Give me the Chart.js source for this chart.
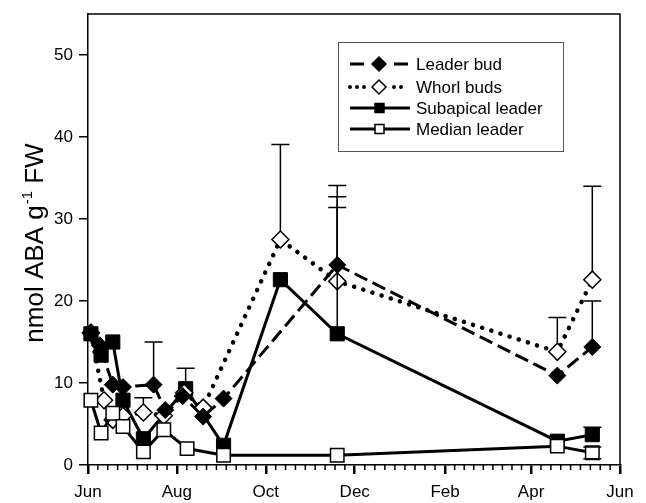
<!DOCTYPE html>
<html>
<head>
<meta charset="utf-8">
<script src="https://cdn.jsdelivr.net/npm/chart.js@4.4.1/dist/chart.umd.min.js"></script>
<style>
  html, body { margin: 0; padding: 0; background: #fff; }
  #wrap { width: 646px; height: 503px; }
</style>
</head>
<body>
<div id="wrap"><canvas id="c" width="646" height="503"></canvas></div>
<script>
/* ABA content of leader / whorl buds and leader sections over one year.
   x = days after 1 June, y = nmol ABA g-1 FW. Error bars are upper (SE) only. */
const FONT = '"Liberation Sans", Arial, Helvetica, sans-serif';

const monthDays = [0, 61, 122, 183, 245, 304, 365];
const monthLabels = ["Jun", "Aug", "Oct", "Dec", "Feb", "Apr", "Jun"];
const yTicks = [0, 10, 20, 30, 40, 50];

const leaderDays  = [2, 8, 17, 24, 45, 53, 65, 79, 93, 171, 322, 346];
const leaderVals  = [16.2, 14.6, 9.8, 9.5, 9.8, 6.7, 8.4, 5.9, 8.1, 24.4, 10.9, 14.4];
const leaderErrHi = [null, null, null, null, 15.0, null, null, null, null, 34.1, null, 20.0];

const whorlDays  = [2, 11, 17, 24, 38, 52, 66, 79, 132, 171, 322, 346];
const whorlVals  = [16.1, 7.9, 5.5, 6.0, 6.4, 6.0, 8.8, 7.0, 27.5, 22.4, 13.8, 22.6];
const whorlErrHi = [null, null, null, null, 8.2, null, null, null, 39.1, 32.7, 18.0, 34.0];

const subDays  = [2, 9, 17, 24, 38, 67, 93, 132, 171, 322, 346];
const subVals  = [16.0, 13.4, 15.0, 7.9, 3.2, 9.3, 2.4, 22.6, 16.0, 2.9, 3.7];
const subErrHi = [null, null, null, null, null, 11.8, null, null, 31.4, null, 4.6];

const medDays  = [2, 9, 17, 24, 38, 52, 68, 93, 171, 322, 346];
const medVals  = [7.9, 3.9, 6.3, 4.7, 1.6, 4.3, 2.0, 1.2, 1.2, 2.3, 1.5];
const medErrHi = [null, null, null, null, null, null, null, null, null, null, 2.2];
const medErrLo = [null, null, null, null, null, null, null, null, null, null, 0.75];

const pts = (d, v) => d.map((x, i) => ({ x, y: v[i] }));

// [days, values, upper, lower, marker half-height]
const errSets = [
  [leaderDays, leaderVals, leaderErrHi, null, 8],
  [whorlDays, whorlVals, whorlErrHi, null, 8],
  [subDays, subVals, subErrHi, null, 7],
  [medDays, medVals, medErrHi, medErrLo, 7],
];

const decor = {
  id: "decor",
  afterDatasetsDraw(chart) {
    const { ctx, scales: { x, y } } = chart;
    ctx.save();
    ctx.strokeStyle = "#000";
    ctx.lineWidth = 1.5;
    errSets.forEach(([d, v, hi, lo, off]) => {
      d.forEach((day, i) => {
        const px = x.getPixelForValue(day), py = y.getPixelForValue(v[i]);
        [[hi, -off], [lo, off]].forEach(([arr, o]) => {
          if (!arr || arr[i] == null) return;
          const pe = y.getPixelForValue(arr[i]);
          ctx.beginPath();
          ctx.moveTo(px, py + o); ctx.lineTo(px, pe);
          ctx.moveTo(px - 9, pe); ctx.lineTo(px + 9, pe);
          ctx.stroke();
        });
      });
    });
    ctx.restore();
  },
  afterDraw(chart) {
    const { ctx, chartArea: a, scales: { x } } = chart;
    ctx.save();
    ctx.strokeStyle = "#000";
    // frame top + right
    ctx.lineWidth = 1.5;
    ctx.beginPath();
    ctx.moveTo(a.left, a.top); ctx.lineTo(a.right, a.top); ctx.lineTo(a.right, a.bottom);
    ctx.stroke();
    // minor x ticks
    ctx.beginPath();
    for (let k = 0; k < monthDays.length - 1; k++) {
      for (let j = 1; j < 9; j++) {
        const px = x.getPixelForValue(monthDays[k] + (monthDays[k + 1] - monthDays[k]) * j / 9);
        ctx.moveTo(px, a.bottom); ctx.lineTo(px, a.bottom + 5);
      }
    }
    ctx.stroke();

    // y title with superscript
    ctx.fillStyle = "#000";
    ctx.translate(43, 243);
    ctx.rotate(-Math.PI / 2);
    ctx.textBaseline = "alphabetic";
    ctx.textAlign = "left";
    const big = "26px " + FONT, small = "15px " + FONT;
    ctx.font = big; const w1 = ctx.measureText("nmol ABA g").width, w3 = ctx.measureText(" FW").width;
    ctx.font = small; const w2 = ctx.measureText("-1").width + 1;
    let sx = -(w1 + w2 + w3) / 2;
    ctx.font = big; ctx.fillText("nmol ABA g", sx, 0); sx += w1;
    ctx.font = small; ctx.fillText("-1", sx + 1, -11); sx += w2;
    ctx.font = big; ctx.fillText(" FW", sx, 0);
    ctx.setTransform(1, 0, 0, 1, 0, 0);

    // legend
    ctx.strokeStyle = "#555";
    ctx.lineWidth = 1;
    ctx.strokeRect(338.5, 42.5, 225, 109);
    const rows = [64, 87, 108, 129];
    ctx.strokeStyle = "#000";
    ctx.fillStyle = "#000";
    ctx.font = "17px " + FONT;
    ctx.textBaseline = "middle";
    chart.data.datasets.forEach((ds, i) => {
      const ry = rows[i];
      ctx.lineWidth = 3;
      ctx.beginPath();
      if (i === 0) {
        ctx.moveTo(350, ry); ctx.lineTo(364, ry); ctx.moveTo(394, ry); ctx.lineTo(408, ry);
        ctx.stroke();
      } else if (i === 1) {
        [350, 357, 364, 394, 401].forEach(dx => { ctx.moveTo(dx + 2, ry); ctx.arc(dx, ry, 2, 0, Math.PI * 2); });
        ctx.fill();
      } else {
        ctx.moveTo(350, ry); ctx.lineTo(410, ry); ctx.stroke();
      }
      ctx.lineWidth = 1.5;
      ctx.beginPath();
      if (ds.pointStyle === "rectRot") {
        ctx.moveTo(379, ry - 7); ctx.lineTo(386, ry); ctx.lineTo(379, ry + 7); ctx.lineTo(372, ry); ctx.closePath();
      } else {
        ctx.rect(375, ry - 4.5, 9, 9);
      }
      ctx.fillStyle = ds.pointBackgroundColor; ctx.fill(); ctx.stroke();
      ctx.fillStyle = "#000";
      ctx.fillText(ds.label, 416, ry + 1);
    });
    ctx.restore();
  },
};

new Chart(document.getElementById("c"), {
  type: "line",
  data: {
    datasets: [
      { label: "Leader bud", data: pts(leaderDays, leaderVals), borderColor: "#000", borderWidth: 3,
        borderDash: [14, 6], pointStyle: "rectRot", pointRadius: 8.5, pointBackgroundColor: "#000",
        pointBorderColor: "#000", pointBorderWidth: 1, order: 1, clip: false },
      { label: "Whorl buds", data: pts(whorlDays, whorlVals), borderColor: "#000", borderWidth: 4.5,
        borderDash: [0.1, 9.5], borderCapStyle: "round", pointStyle: "rectRot", pointRadius: 8.5,
        pointBackgroundColor: "#fff", pointBorderColor: "#000", pointBorderWidth: 1.5, order: 2, clip: false },
      { label: "Subapical leader", data: pts(subDays, subVals), borderColor: "#000", borderWidth: 3,
        pointStyle: "rect", pointRadius: 10, pointBackgroundColor: "#000", pointBorderColor: "#000",
        pointBorderWidth: 1, order: 3, clip: false },
      { label: "Median leader", data: pts(medDays, medVals), borderColor: "#000", borderWidth: 3,
        pointStyle: "rect", pointRadius: 9.5, pointBackgroundColor: "#fff", pointBorderColor: "#000",
        pointBorderWidth: 1.5, order: 0, clip: false },
    ],
  },
  options: {
    responsive: false, animation: false, devicePixelRatio: 1,
    layout: { padding: { top: 14, right: 26, left: 0, bottom: 0 } },
    plugins: { legend: { display: false }, tooltip: { enabled: false } },
    scales: {
      x: {
        type: "linear", min: 0, max: 365,
        afterBuildTicks: s => { s.ticks = monthDays.map(v => ({ value: v })); },
        afterFit: s => { s.height = 38; s.paddingLeft = 0; s.paddingRight = 0; },
        ticks: { callback: (v, i) => monthLabels[i], font: { family: FONT, size: 17 }, color: "#000",
                 padding: 8, maxRotation: 0, autoSkip: false },
        grid: { drawOnChartArea: false, drawTicks: true, tickLength: 9, color: "#000", lineWidth: 2.5 },
        border: { display: true, color: "#000", width: 1.5 },
      },
      y: {
        min: 0, max: 55,
        afterBuildTicks: s => { s.ticks = yTicks.map(v => ({ value: v })); },
        afterFit: s => { s.width = 88; s.paddingTop = 0; s.paddingBottom = 0; },
        ticks: { font: { family: FONT, size: 17 }, color: "#000", padding: 6 },
        grid: { drawOnChartArea: false, drawTicks: true, tickLength: 9, color: "#000", lineWidth: 1.5 },
        border: { display: true, color: "#000", width: 1.5 },
      },
    },
  },
  plugins: [decor],
});
</script>
</body>
</html>
